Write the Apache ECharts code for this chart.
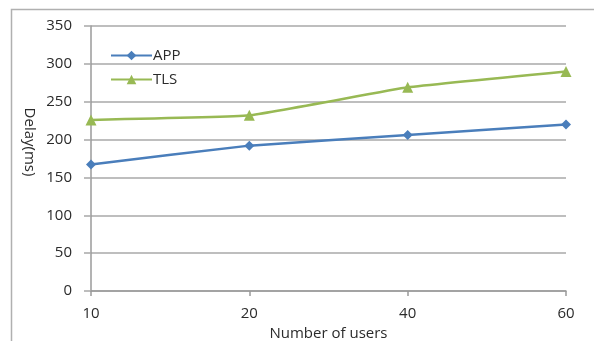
<!DOCTYPE html>
<html>
<head>
<meta charset="utf-8">
<script src="https://cdn.jsdelivr.net/npm/echarts@6/dist/echarts.min.js"></script>
<style>
  html, body { margin: 0; padding: 0; background: #fff; }
  #chart { width: 594px; height: 341px; }
</style>
</head>
<body>
<div id="chart"></div>
<script>
// Delay measurements per number of users
const users = ['10', '20', '40', '60'];
const appDelay = [167, 192, 206, 220];
const tlsDelay = [226, 232, 269, 290];

const FONT = '"Open Sans", sans-serif';
const TEXT = '#2b2b2b';

const chart = echarts.init(document.getElementById('chart'), null, { renderer: 'canvas' });
chart.setOption({
  animation: false,
  backgroundColor: '#ffffff',
  textStyle: { fontFamily: FONT, color: TEXT },
  grid: { left: 91, right: 28, top: 26, bottom: 50, containLabel: false, outerBoundsMode: 'none' },
  legend: {
    orient: 'vertical',
    left: 110,
    top: 48,
    padding: 0,
    itemWidth: 41,
    itemHeight: 12,
    itemGap: 9,
    textStyle: { fontFamily: FONT, fontSize: 15, color: TEXT, padding: [0, 0, 0, -4] },
    data: ['APP', 'TLS']
  },
  graphic: [
    {
      type: 'rect',
      shape: { x: 11.5, y: 9.5, width: 700, height: 500 },
      style: { fill: 'none', stroke: '#b0b0b0', lineWidth: 1.5 },
      silent: true
    },
    {
      type: 'text',
      x: 29, y: 142,
      rotation: -Math.PI / 2,
      style: {
        text: 'Delay(ms)',
        font: '15px ' + FONT,
        fill: TEXT,
        align: 'center',
        verticalAlign: 'middle'
      }
    }
  ],
  xAxis: {
    type: 'category',
    data: users,
    boundaryGap: false,
    name: 'Number of users',
    nameLocation: 'middle',
    nameGap: 26,
    nameTextStyle: { fontFamily: FONT, fontSize: 15, color: TEXT },
    axisLine: { lineStyle: { color: '#9a9a9a', width: 1.5 } },
    axisTick: { show: true, length: 5, inside: false, lineStyle: { color: '#9a9a9a', width: 1.5 } },
    axisLabel: { fontFamily: FONT, fontSize: 15, color: TEXT, margin: 15 },
    splitLine: { show: false }
  },
  yAxis: {
    type: 'value',
    min: 0,
    max: 350,
    interval: 50,
    axisLine: { show: true, lineStyle: { color: '#9a9a9a', width: 1.5 } },
    axisTick: { show: true, length: 7, lineStyle: { color: '#a8a8a8', width: 1.5 } },
    axisLabel: { fontFamily: FONT, fontSize: 15, color: TEXT, margin: 19 },
    splitLine: { show: true, lineStyle: { color: '#a8a8a8', width: 1.5 } }
  },
  series: [
    {
      name: 'APP',
      type: 'line',
      data: appDelay,
      smooth: 0.1,
      symbol: 'diamond',
      symbolSize: 10,
      lineStyle: { color: '#4a7ebb', width: 2.5 },
      itemStyle: { color: '#4a7ebb' }
    },
    {
      name: 'TLS',
      type: 'line',
      data: tlsDelay,
      smooth: 0.1,
      symbol: 'triangle',
      symbolSize: 11,
      lineStyle: { color: '#98b954', width: 2.5 },
      itemStyle: { color: '#98b954' }
    }
  ]
});
</script>
</body>
</html>
